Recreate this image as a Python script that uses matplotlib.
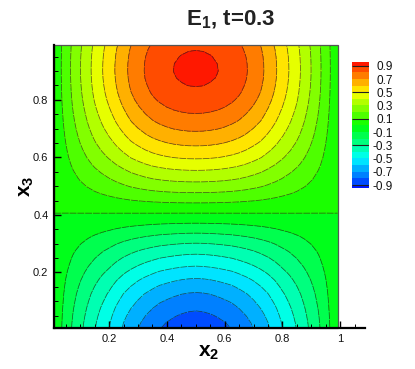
import numpy as np
import matplotlib
matplotlib.use('Agg')
import matplotlib.pyplot as plt
from matplotlib.colors import LinearSegmentedColormap
from matplotlib.patches import Rectangle
from matplotlib.ticker import MultipleLocator, FixedLocator, FixedFormatter

plt.rcParams['font.family'] = ['Liberation Sans', 'DejaVu Sans']
plt.rcParams['mathtext.fontset'] = 'custom'
plt.rcParams['mathtext.rm'] = 'Liberation Sans'
plt.rcParams['mathtext.bf'] = 'Liberation Sans:bold'

# profiles estimated from the contour crossings in the picture
x_left = [0.009, 0.025, 0.05, 0.075, 0.10, 0.125, 0.15, 0.175, 0.20, 0.225, 0.25,
          0.275, 0.30, 0.325, 0.35, 0.375, 0.40, 0.425, 0.45, 0.475, 0.50]
profile_top = [0.03, 0.078, 0.162, 0.247, 0.324, 0.398, 0.471, 0.537, 0.601, 0.666, 0.727,
               0.787, 0.833, 0.876, 0.913, 0.941, 0.963, 0.980, 0.991, 0.998, 1.0]
profile_bottom = [0.03, 0.076, 0.167, 0.248, 0.320, 0.390, 0.457, 0.521, 0.580, 0.647, 0.707,
                  0.760, 0.808, 0.850, 0.887, 0.922, 0.945, 0.966, 0.983, 0.995, 1.0]
y_nodes = [0.009, 0.025, 0.05, 0.075, 0.10, 0.125, 0.15, 0.175, 0.20, 0.225, 0.25, 0.275,
           0.30, 0.325, 0.35, 0.375, 0.40, 0.425, 0.45, 0.475, 0.50, 0.525, 0.55, 0.575,
           0.60, 0.625, 0.65, 0.675, 0.70, 0.725, 0.75, 0.775, 0.80, 0.825, 0.85, 0.875,
           0.90, 0.925, 0.95, 0.975, 0.99]
centre_values = [-0.862, -0.850, -0.822, -0.789, -0.750, -0.711, -0.662, -0.610, -0.553,
                 -0.493, -0.433, -0.372, -0.305, -0.234, -0.161, -0.089, -0.017, 0.053,
                 0.123, 0.194, 0.262, 0.327, 0.388, 0.452, 0.513, 0.569, 0.622, 0.672,
                 0.718, 0.760, 0.797, 0.832, 0.862, 0.886, 0.903, 0.915, 0.920, 0.918,
                 0.911, 0.898, 0.886]
levels = [round(-0.9 + 0.1 * i, 1) for i in range(19)]
cbar_labels = [0.9, 0.7, 0.5, 0.3, 0.1, -0.1, -0.3, -0.5, -0.7, -0.9]
cbar_lines = [0.9, 0.5, 0.1, -0.3, -0.9]
x_ticks = [0.2, 0.4, 0.6, 0.8, 1]
x_ticklabels = ['0.2', '0.4', '0.6', '0.8', '1']
y_ticks = [0.2, 0.4, 0.6, 0.8]
y_ticklabels = ['0.2', '0.4', '0.6', '0.8']

W, H = 415, 369
fig = plt.figure(figsize=(W / 100, H / 100), dpi=100)
ax = fig.add_axes([54 / W, 1 - 327.5 / H, (365 - 54) / W, (327.5 - 45) / H])

xs = np.array(x_left + [1 - v for v in x_left[-2::-1]])
top = np.array(profile_top + profile_top[-2::-1])
bot = np.array(profile_bottom + profile_bottom[-2::-1])
ys = np.array(y_nodes)
cv = np.array(centre_values)
Z = np.where((cv >= 0)[:, None], np.outer(cv, top), np.outer(cv, bot))

rainbow = LinearSegmentedColormap.from_list(
    'tec', [(0, '#0000ff'), (0.25, '#00ffff'), (0.5, '#00ff00'), (0.75, '#ffff00'), (1, '#ff0000')])
edges = [-1.0] + levels + [1.0]
mids = [(a + b) / 2 for a, b in zip(edges[:-1], edges[1:])]
band_colors = [rainbow((m + 1) / 2) for m in mids]

ax.contourf(xs, ys, Z, levels=edges, colors=band_colors, antialiased=False)
ax.contour(xs, ys, Z, levels=levels, colors='#202020', linewidths=0.55, alpha=0.7,
           linestyles=[(0, (9, 1.2))])
ax.add_patch(Rectangle((xs[0], ys[0]), xs[-1] - xs[0], ys[-1] - ys[0], fill=False,
                       ec='#555555', lw=0.9, zorder=4, clip_on=False))

ax.set_xlim(0.009, 1.086)
ax.set_ylim(0.009, 0.990)
for s in ('top', 'right'):
    ax.spines[s].set_visible(False)
for s in ('left', 'bottom'):
    ax.spines[s].set_linewidth(1.6)
    ax.spines[s].set_zorder(6)
ax.xaxis.set_major_locator(FixedLocator(x_ticks))
ax.xaxis.set_major_formatter(FixedFormatter(x_ticklabels))
ax.yaxis.set_major_locator(FixedLocator(y_ticks))
ax.yaxis.set_major_formatter(FixedFormatter(y_ticklabels))
ax.xaxis.set_minor_locator(MultipleLocator(0.05))
ax.yaxis.set_minor_locator(MultipleLocator(0.05))
ax.tick_params(which='major', direction='in', length=5, width=1.0, labelsize=8, zorder=6,
               color='black', labelcolor='#111111')
ax.tick_params(which='minor', direction='in', length=2.6, width=0.7, zorder=6)
ax.tick_params(axis='x', which='major', pad=5)
ax.tick_params(axis='y', which='major', pad=4)

fig.text(231 / W, 1 - 20 / H, r'E$_{\mathbf{1}}$, t=0.3', fontsize=16, fontweight='bold',
         ha='center', va='center', color='#222222')
fig.text(209 / W, 1 - 353 / H, r'x$_{\mathbf{2}}$', fontsize=15, fontweight='bold',
         ha='center', va='center')
fig.text(27 / W, 1 - 186 / H, r'x$_{\mathbf{3}}$', fontsize=15, fontweight='bold',
         ha='center', va='center', rotation=90)

# colour bar
cax = fig.add_axes([352 / W, 1 - 188 / H, 17 / W, (188 - 62.3) / H])
cb_lo, cb_hi = -0.945, 0.95
cb_edges = [cb_lo] + levels + [cb_hi]
for a, b, c in zip(cb_edges[:-1], cb_edges[1:], band_colors):
    cax.barh((a + b) / 2, 1, height=b - a, color=c, lw=0)
cax.hlines(cbar_lines, 0, 1, colors='#202020', lw=0.8)
cax.set_xlim(0, 1)
cax.set_ylim(cb_lo, cb_hi)
cax.axis('off')
for v in cbar_labels:
    cax.text(2.42, v - 0.025, f'{v:.1f}', ha='right', va='center', fontsize=8.5, color='#111111')

fig.savefig('out.png', dpi=100)
